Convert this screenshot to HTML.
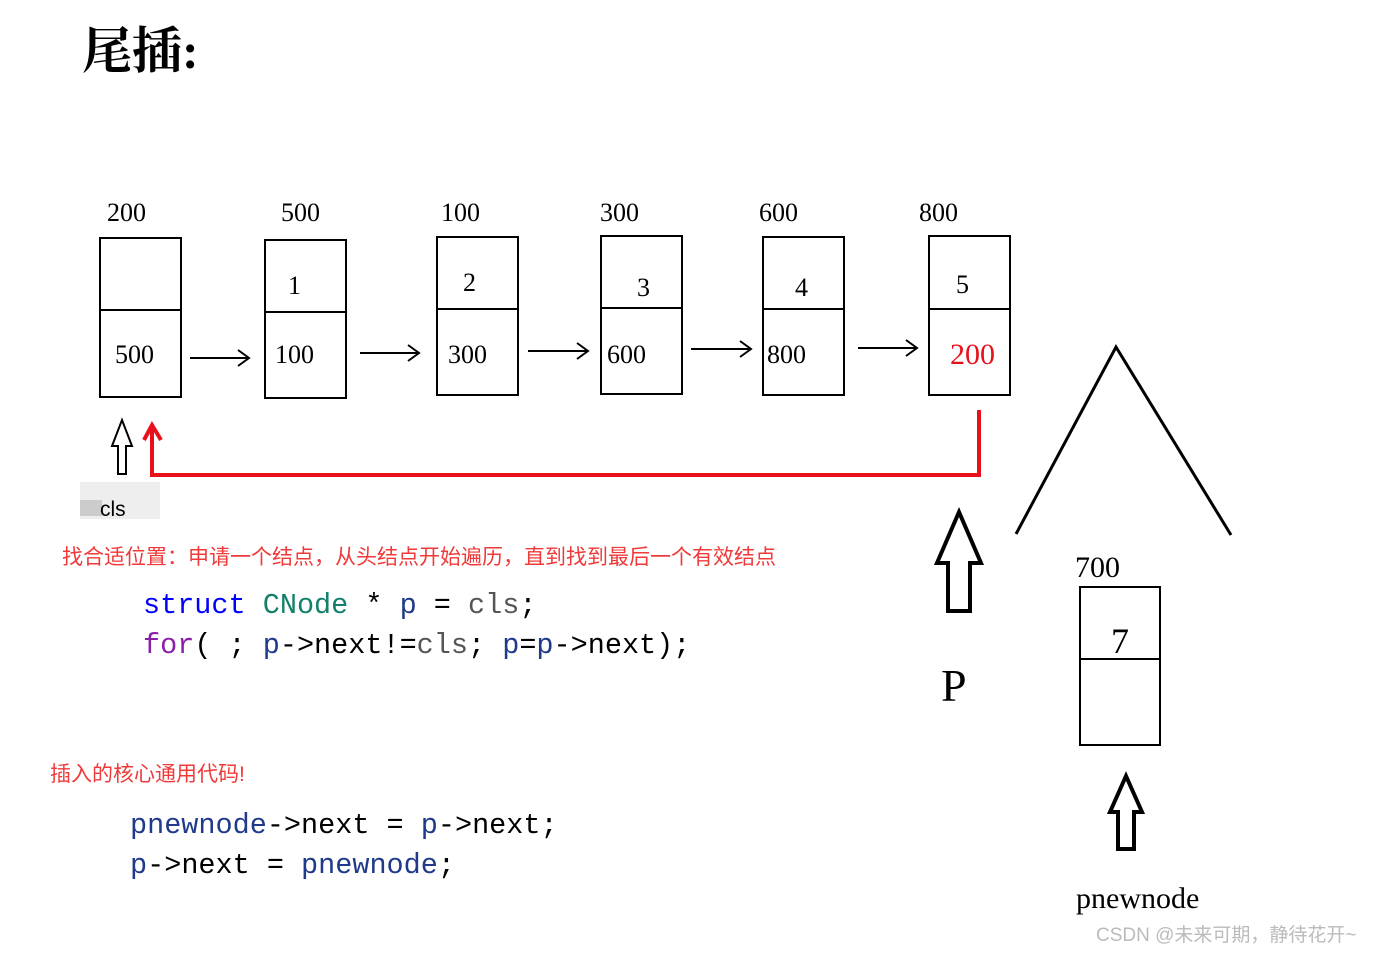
<!DOCTYPE html>
<html><head><meta charset="utf-8"><style>
body{margin:0;background:#fff;}
svg{display:block}
.s{font-family:"Liberation Serif","Noto Serif CJK SC",serif;}
.m{font-family:"Liberation Mono",monospace;font-size:28.5px;}
.c{font-family:"Liberation Sans","Noto Sans CJK SC",sans-serif;}
</style></head><body>
<svg width="1374" height="953" viewBox="0 0 1374 953">
<text x="82" y="68" class="s" font-size="50" font-weight="bold" fill="#000">尾插:</text>
<g class="s" font-size="26" fill="#000">
<text x="107" y="221">200</text><text x="281" y="221">500</text><text x="441" y="221">100</text>
<text x="600" y="221">300</text><text x="759" y="221">600</text><text x="919" y="221">800</text>
<text x="1075" y="577" font-size="30">700</text>
</g>
<g fill="none" stroke="#000" stroke-width="2">
<rect x="100" y="238" width="81" height="159"/><line x1="100" y1="310" x2="181" y2="310"/>
<rect x="265" y="240" width="81" height="158"/><line x1="265" y1="312" x2="346" y2="312"/>
<rect x="437" y="237" width="81" height="158"/><line x1="437" y1="309" x2="518" y2="309"/>
<rect x="601" y="236" width="81" height="158"/><line x1="601" y1="308" x2="682" y2="308"/>
<rect x="763" y="237" width="81" height="158"/><line x1="763" y1="309" x2="844" y2="309"/>
<rect x="929" y="236" width="81" height="159"/><line x1="929" y1="309" x2="1010" y2="309"/>
<rect x="1080" y="587" width="80" height="158"/><line x1="1080" y1="659" x2="1160" y2="659"/>
<path d="M190 358H248M238 350L249 358L238 366"/>
<path d="M360 353H418M408 345L419 353L408 361"/>
<path d="M528 351H587M577 343L588 351L577 359"/>
<path d="M691 349H750M740 341L751 349L740 357"/>
<path d="M858 348H916M906 340L917 348L906 356"/>
<path d="M1016 534L1116 347L1231 535" stroke-width="3"/>
<path d="M118 474V446H112L122 420L132 446H126V474Z" stroke-width="2"/>
<path d="M948 611V563H937L959 512L981 563H970V611Z" stroke-width="4"/>
<path d="M1118 849V812H1110L1126 776L1142 812H1134V849Z" stroke-width="4"/>
</g>
<g class="s" font-size="26" fill="#000">
<text x="288" y="294">1</text><text x="463" y="291">2</text><text x="637" y="296">3</text>
<text x="795" y="296">4</text><text x="956" y="293">5</text>
<text x="115" y="363">500</text><text x="275" y="363">100</text><text x="448" y="363">300</text>
<text x="607" y="363">600</text><text x="767" y="363">800</text>
<text x="950" y="364" fill="#e8101a" font-size="30">200</text>
<text x="1111" y="653" font-size="36">7</text>
<text x="941" y="701" font-size="46">P</text>
<text x="1076" y="908" font-size="30">pnewnode</text>
</g>
<path d="M979 410V475H152V428M144 440L152 425L161 440" fill="none" stroke="#e8101a" stroke-width="4"/>
<rect x="80" y="482" width="80" height="37" fill="#eee"/>
<rect x="80" y="500" width="22" height="16" fill="#ccc"/>
<text x="100" y="516" class="c" font-size="21" fill="#000">cls</text>
<text x="62" y="564" class="c" font-size="21" fill="#f03a3a">找合适位置：申请一个结点，从头结点开始遍历，直到找到最后一个有效结点</text>
<text x="143" y="613" class="m"><tspan fill="#0000ff">struct</tspan> <tspan fill="#12806b">CNode</tspan> <tspan fill="#000">*</tspan> <tspan fill="#1f3a8a">p</tspan> <tspan fill="#000">=</tspan> <tspan fill="#555">cls</tspan><tspan fill="#000">;</tspan></text>
<text x="143" y="653" class="m"><tspan fill="#8b1fa8">for</tspan><tspan fill="#000">( ; </tspan><tspan fill="#1f3a8a">p</tspan><tspan fill="#000">-&gt;next!=</tspan><tspan fill="#555">cls</tspan><tspan fill="#000">; </tspan><tspan fill="#1f3a8a">p</tspan><tspan fill="#000">=</tspan><tspan fill="#1f3a8a">p</tspan><tspan fill="#000">-&gt;next);</tspan></text>
<text x="50" y="781" class="c" font-size="21" fill="#f03a3a">插入的核心通用代码!</text>
<text x="130" y="833" class="m"><tspan fill="#1f3a8a">pnewnode</tspan><tspan fill="#000">-&gt;next = </tspan><tspan fill="#1f3a8a">p</tspan><tspan fill="#000">-&gt;next;</tspan></text>
<text x="130" y="873" class="m"><tspan fill="#1f3a8a">p</tspan><tspan fill="#000">-&gt;next = </tspan><tspan fill="#1f3a8a">pnewnode</tspan><tspan fill="#000">;</tspan></text>
<text x="1096" y="941" class="c" font-size="19" fill="#bbb">CSDN @未来可期，静待花开~</text>
</svg>
</body></html>
